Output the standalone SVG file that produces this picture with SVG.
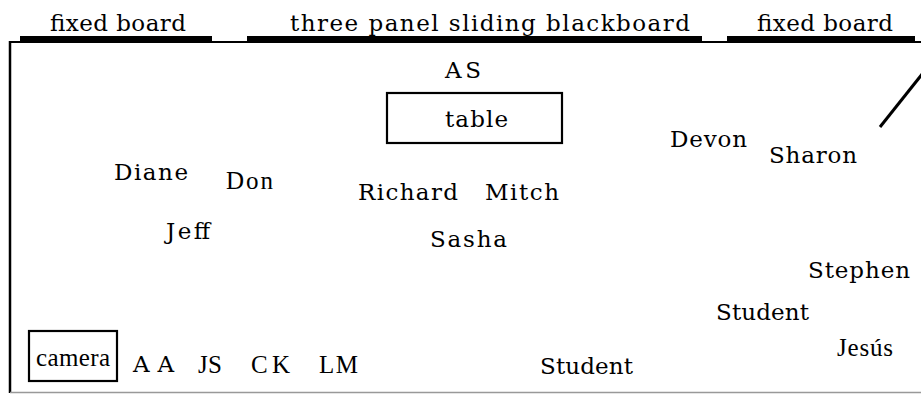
<svg xmlns="http://www.w3.org/2000/svg" width="921" height="394" viewBox="0 0 921 394">
<style>
text{font-family:"DejaVu Serif","Liberation Serif",serif;font-size:23px;fill:#000}
.sm{font-family:"Liberation Serif","DejaVu Serif",serif;font-size:25px}
.box{fill:none;stroke:#000;stroke-width:2.2}
.board{fill:#000}
</style>
<rect width="921" height="394" fill="#fff"/>
<g id="room">
<line x1="10" y1="42" x2="921" y2="42" stroke="#000" stroke-width="2"/>
<line x1="10" y1="41" x2="10" y2="393" stroke="#000" stroke-width="2.5"/>
<line x1="10" y1="392.5" x2="921" y2="392.5" stroke="#999" stroke-width="1.5"/>
<line x1="880" y1="127" x2="923" y2="73" stroke="#000" stroke-width="3"/>
</g>
<g id="board-left"><rect class="board" x="20" y="36" width="192" height="5"/><text x="50" y="31" textLength="136">fixed board</text></g>
<g id="board-center"><rect class="board" x="247" y="36" width="455" height="5"/><text x="290" y="31" textLength="400">three panel sliding blackboard</text></g>
<g id="board-right"><rect class="board" x="727" y="36" width="188" height="5"/><text x="757" y="31" textLength="136">fixed board</text></g>
<g id="table"><rect class="box" x="387" y="93" width="175" height="50"/><text x="445" y="127" textLength="63">table</text></g>
<g id="camera"><rect class="box" x="29" y="331" width="88" height="50"/><text class="sm" x="36" y="366" textLength="74">camera</text></g>
<g id="AS"><text x="445" y="78" textLength="36">AS</text></g>
<g id="Devon"><text x="670" y="147" textLength="77">Devon</text></g>
<g id="Sharon"><text x="769" y="163" textLength="88">Sharon</text></g>
<g id="Diane"><text x="114" y="180" textLength="74">Diane</text></g>
<g id="Don"><text class="sm" x="226" y="189" textLength="47">Don</text></g>
<g id="Richard"><text x="358" y="200" textLength="100">Richard</text></g>
<g id="Mitch"><text x="485" y="200" textLength="74">Mitch</text></g>
<g id="Jeff"><text x="166" y="239" textLength="44">Jeff</text></g>
<g id="Sasha"><text x="430" y="247" textLength="77">Sasha</text></g>
<g id="Stephen"><text x="808" y="278" textLength="102">Stephen</text></g>
<g id="Student1"><text x="716" y="320" textLength="93">Student</text></g>
<g id="Jesus"><text class="sm" x="837" y="356" textLength="56">Jesús</text></g>
<g id="Student2"><text x="540" y="374" textLength="93">Student</text></g>
<g id="AA"><text x="133" y="372" textLength="41">AA</text></g>
<g id="JS"><text class="sm" x="198" y="373" textLength="24">JS</text></g>
<g id="CK"><text class="sm" x="251" y="373" textLength="39">CK</text></g>
<g id="LM"><text class="sm" x="319" y="373" textLength="39">LM</text></g>
</svg>
